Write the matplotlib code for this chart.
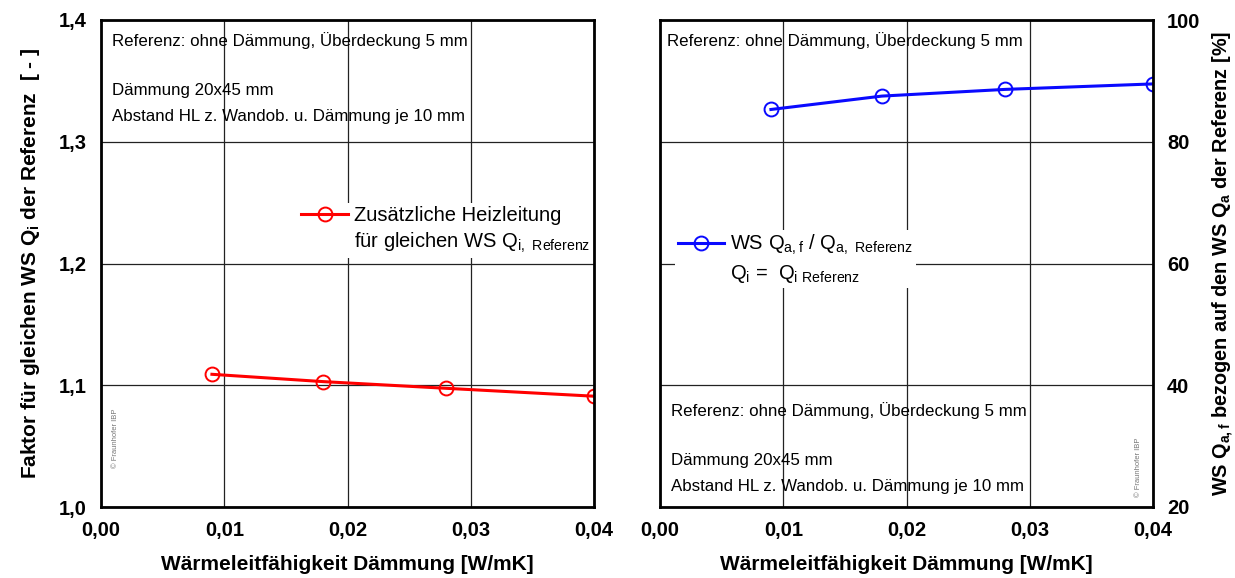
import matplotlib
matplotlib.use('Agg')
import matplotlib.pyplot as plt
from matplotlib.lines import Line2D

plt.rcParams['font.family'] = ['Liberation Sans', 'DejaVu Sans']
plt.rcParams['mathtext.default'] = 'regular'

# Wärmeleitfähigkeit der Dämmung [W/mK]
lam = [0.009, 0.018, 0.028, 0.04]
# Faktor Heizleitung für gleichen WS Qi
faktor = [1.109, 1.103, 1.0975, 1.091]
# WS Qa,f bezogen auf Referenz [%]
ws_qa = [85.3, 87.5, 88.6, 89.5]

x_ticks = [0.0, 0.01, 0.02, 0.03, 0.04]
x_labels = ['0,00', '0,01', '0,02', '0,03', '0,04']
y1_ticks = [1.0, 1.1, 1.2, 1.3, 1.4]
y1_labels = ['1,0', '1,1', '1,2', '1,3', '1,4']
y2_ticks = [20, 40, 60, 80, 100]
y2_labels = ['20', '40', '60', '80', '100']

txt_ref = 'Referenz: ohne Dämmung, Überdeckung 5 mm'
txt_daem = 'Dämmung 20x45 mm'
txt_abst = 'Abstand HL z. Wandob. u. Dämmung je 10 mm'
xlabel = 'Wärmeleitfähigkeit Dämmung [W/mK]'

fs_tick = 14.5
fs_lab = 15
fs_txt = 12.2
fs_leg = 14.5

fig = plt.figure(figsize=(12.35, 5.78), dpi=100)
ax1 = fig.add_axes([101/1235, 1-507/578, 493/1235, 487/578])
ax2 = fig.add_axes([660/1235, 1-507/578, 493/1235, 487/578])

for ax in (ax1, ax2):
    ax.set_xlim(0, 0.04)
    ax.set_xticks(x_ticks)
    ax.set_xticklabels(x_labels, fontsize=fs_tick, fontweight='bold')
    ax.tick_params(length=0, pad=10)
    ax.grid(True, color='#222222', linewidth=0.9)
    ax.set_axisbelow(True)
    for s in ax.spines.values():
        s.set_linewidth(2)
    ax.set_xlabel(xlabel, fontsize=fs_lab, fontweight='bold', labelpad=11)

# linkes Diagramm
ax1.set_ylim(1.0, 1.4)
ax1.set_yticks(y1_ticks)
ax1.set_yticklabels(y1_labels, fontsize=fs_tick, fontweight='bold')
ax1.set_ylabel('Faktor für gleichen WS Q$_i$ der Referenz  [ - ]',
               fontsize=fs_lab, fontweight='bold', labelpad=12)
l1, = ax1.plot(lam, faktor, color='#ff0000', lw=2.2, marker='o', ms=10,
               mfc='none', mew=1.4)
dummy = Line2D([], [], color='none')
ax1.legend([l1, dummy], ['Zusätzliche Heizleitung', 'für gleichen WS Q$_{i,\\ Referenz}$'],
           loc='upper left', bbox_to_anchor=(0.38, 0.645), frameon=True,
           facecolor='white', edgecolor='none', framealpha=1, fontsize=fs_leg,
           handlelength=2.3, handletextpad=0.3, labelspacing=0.3,
           borderpad=0.15, fancybox=False)
ax1.text(0.022, 0.975, txt_ref, transform=ax1.transAxes, fontsize=fs_txt, va='top')
ax1.text(0.022, 0.870, txt_daem, transform=ax1.transAxes, fontsize=fs_txt, va='top')
ax1.text(0.022, 0.817, txt_abst, transform=ax1.transAxes, fontsize=fs_txt, va='top')
ax1.text(0.022, 0.08, '© Fraunhofer IBP', transform=ax1.transAxes, fontsize=5.5,
         color='#777777', rotation=90, va='bottom', ha='left')

# rechtes Diagramm
ax2.set_ylim(20, 100)
ax2.set_yticks(y2_ticks)
ax2.set_yticklabels(y2_labels, fontsize=fs_tick, fontweight='bold')
ax2.yaxis.tick_right()
ax2.yaxis.set_label_position('right')
ax2.set_ylabel('WS Q$_{a,f}$ bezogen auf den WS Q$_a$ der Referenz [%]',
               fontsize=14.3, fontweight='bold')
ax2.yaxis.set_label_coords(1.118, 0.5)
l2, = ax2.plot(lam, ws_qa, color='#0a0aff', lw=2.2, marker='o', ms=10,
               mfc='none', mew=1.4)
ax2.legend([l2, dummy], ['WS Q$_{a,f}$ / Q$_{a,\\ Referenz}$', 'Q$_i$ =  Q$_{i\\ Referenz}$'],
           loc='upper left', bbox_to_anchor=(0.01, 0.59), frameon=True,
           facecolor='white', edgecolor='none', framealpha=1, fontsize=fs_leg,
           handlelength=2.3, handletextpad=0.3, labelspacing=0.3,
           borderpad=0.15, fancybox=False)
ax2.text(0.015, 0.975, txt_ref, transform=ax2.transAxes, fontsize=fs_txt, va='top')
ax2.text(0.022, 0.215, txt_ref, transform=ax2.transAxes, fontsize=fs_txt, va='top')
ax2.text(0.022, 0.11, txt_daem, transform=ax2.transAxes, fontsize=fs_txt, va='top')
ax2.text(0.022, 0.057, txt_abst, transform=ax2.transAxes, fontsize=fs_txt, va='top')
ax2.text(0.978, 0.02, '© Fraunhofer IBP', transform=ax2.transAxes, fontsize=5.5,
         color='#777777', rotation=90, va='bottom', ha='right')

fig.savefig('out.png', dpi=100)
